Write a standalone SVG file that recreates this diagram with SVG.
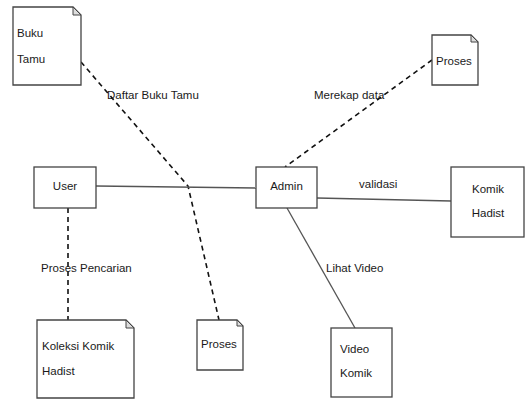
<svg xmlns="http://www.w3.org/2000/svg" width="526" height="399" viewBox="0 0 526 399">
<style>
.box{fill:#fff;stroke:#444;stroke-width:1.3}
.fold{fill:#ddd;stroke:#444;stroke-width:1}
.t{font-family:"Liberation Sans",Arial,sans-serif;font-size:11.5px;fill:#1a1a1a}
.solid{stroke:#555;stroke-width:1.3;fill:none}
.dash{stroke:#111;stroke-width:1.6;fill:none;stroke-dasharray:5,4}
</style>
<rect width="526" height="399" fill="#fff"/>
<g id="connectors">
<polyline class="dash" points="81,62 188,186 219,320"/>
<line class="dash" x1="432" y1="60" x2="285" y2="167"/>
<line class="solid" x1="96" y1="186" x2="256" y2="188"/>
<line class="solid" x1="317" y1="198" x2="451" y2="201"/>
<line class="solid" x1="287" y1="208" x2="355" y2="328"/>
<line class="dash" x1="68" y1="208" x2="68" y2="320"/>
<text class="t" x="107" y="99">Daftar Buku Tamu</text>
<text class="t" x="314" y="99">Merekap data</text>
<text class="t" x="359" y="188">validasi</text>
<text class="t" x="41" y="272">Proses Pencarian</text>
<text class="t" x="326" y="272">Lihat Video</text>
</g>
<g id="buku-tamu">
<path class="box" d="M13,7 H73 L81,15 V85 H13 Z"/>
<path class="fold" d="M73,7 V15 H81 Z"/>
<text class="t" x="17" y="37">Buku</text>
<text class="t" x="17" y="63">Tamu</text>
</g>
<g id="proses-top">
<path class="box" d="M432,35 H471 L478,42 V85 H432 Z"/>
<path class="fold" d="M471,35 V42 H478 Z"/>
<text class="t" x="436" y="65">Proses</text>
</g>
<g id="user">
<rect class="box" x="34" y="167" width="62" height="41"/>
<text class="t" x="65" y="190" text-anchor="middle">User</text>
</g>
<g id="admin">
<rect class="box" x="256" y="167" width="61" height="41"/>
<text class="t" x="286.5" y="190" text-anchor="middle">Admin</text>
</g>
<g id="komik-hadist">
<rect class="box" x="451" y="167" width="73" height="70"/>
<text class="t" x="488" y="193" text-anchor="middle">Komik</text>
<text class="t" x="488" y="217" text-anchor="middle">Hadist</text>
</g>
<g id="koleksi">
<path class="box" d="M37,320 H126 L134,328 V398 H37 Z"/>
<path class="fold" d="M126,320 V328 H134 Z"/>
<text class="t" x="42" y="350">Koleksi Komik</text>
<text class="t" x="42" y="375">Hadist</text>
</g>
<g id="proses-bottom">
<path class="box" d="M197,320 H237 L243,326 V370 H197 Z"/>
<path class="fold" d="M237,320 V326 H243 Z"/>
<text class="t" x="201" y="348">Proses</text>
</g>
<g id="video-komik">
<rect class="box" x="331" y="328" width="61" height="69"/>
<text class="t" x="340" y="353">Video</text>
<text class="t" x="340" y="377">Komik</text>
</g>
</svg>
